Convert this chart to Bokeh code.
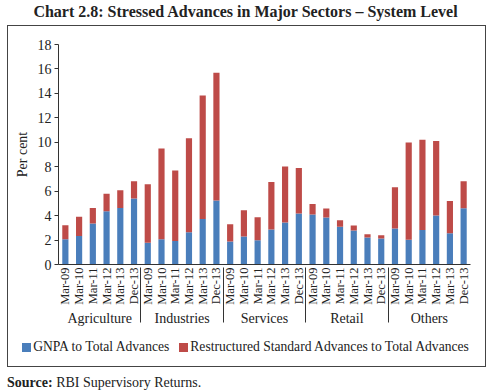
import math
from bokeh.plotting import figure
from bokeh.models import (FactorRange, Range1d, Div, ColumnDataSource, FixedTicker)
from bokeh.layouts import column
from bokeh.embed import file_html
from bokeh.resources import INLINE

sectors = ["Agriculture", "Industries", "Services", "Retail", "Others"]
periods = ["Mar-09", "Mar-10", "Mar-11", "Mar-12", "Mar-13", "Dec-13"]

gnpa_agriculture = [2.07, 2.34, 3.35, 4.36, 4.63, 5.40]
gnpa_industries = [1.77, 2.07, 1.93, 2.64, 3.73, 5.24]
gnpa_services = [1.88, 2.29, 1.99, 2.86, 3.43, 4.17]
gnpa_retail = [4.09, 3.85, 3.08, 2.78, 2.21, 2.13]
gnpa_others = [2.95, 2.02, 2.83, 4.01, 2.56, 4.60]

rsa_agriculture = [1.15, 1.56, 1.28, 1.42, 1.45, 1.42]
rsa_industries = [4.80, 7.42, 5.76, 7.69, 10.10, 10.44]
rsa_services = [1.42, 2.15, 1.88, 3.90, 4.59, 3.73]
rsa_retail = [0.87, 0.73, 0.55, 0.41, 0.27, 0.27]
rsa_others = [3.38, 7.96, 7.37, 6.10, 2.64, 2.22]

series_names = ["GNPA to Total Advances", "Restructured Standard Advances to Total Advances"]
y_ticks = [0, 2, 4, 6, 8, 10, 12, 14, 16, 18]

BLUE = "#4A7EBB"
RED = "#BE4B48"
SERIF = "Liberation Serif"
INK = "#222222"

gnpa_all = gnpa_agriculture + gnpa_industries + gnpa_services + gnpa_retail + gnpa_others
rsa_all = rsa_agriculture + rsa_industries + rsa_services + rsa_retail + rsa_others
factors = [(s, p) for s in sectors for p in periods]

source = ColumnDataSource(data=dict(x=factors, gnpa=gnpa_all, rsa=rsa_all))

p = figure(x_range=FactorRange(*factors, group_padding=0, factor_padding=0, range_padding=0),
           y_range=Range1d(0, 18),
           frame_width=412, frame_height=220,
           min_border_left=50, min_border_right=15, min_border_top=18, min_border_bottom=0,
           output_backend="svg", toolbar_location=None, margin=(0, 0, 0, 0))

renderers = p.vbar_stack(["gnpa", "rsa"], x="x", width=0.45, source=source,
                         color=[BLUE, RED], line_color=None)

p.xgrid.grid_line_color = None
p.ygrid.grid_line_color = None
p.outline_line_color = None

xa = p.xaxis[0]
xa.major_label_orientation = math.pi / 2
xa.major_label_standoff = 3
xa.major_label_text_font = SERIF
xa.major_label_text_font_size = "12.5px"
xa.major_label_text_color = INK
xa.group_text_font = SERIF
xa.group_text_font_size = "14px"
xa.group_text_color = INK
xa.group_text_font_style = "normal"
xa.major_tick_line_color = None
xa.major_tick_out = 0
xa.minor_tick_line_color = None
xa.axis_line_color = "#333333"
xa.separator_line_color = "#333333"
xa.separator_line_width = 1

ya = p.yaxis[0]
ya.ticker = FixedTicker(ticks=y_ticks)
ya.axis_label = "Per cent"
ya.axis_label_text_font = SERIF
ya.axis_label_text_font_size = "14px"
ya.axis_label_text_font_style = "normal"
ya.axis_label_text_color = INK
ya.major_label_text_font = SERIF
ya.major_label_text_font_size = "14px"
ya.major_label_text_color = INK
ya.major_label_standoff = 3
ya.major_tick_out = 4
ya.major_tick_in = 0
ya.minor_tick_line_color = None
ya.axis_line_color = "#333333"
ya.major_tick_line_color = "#333333"

# HTML legend below the axis (inside the bordered box)
def swatch(color, label):
    return ('<span style="display:inline-flex;align-items:center;white-space:nowrap;">'
            f'<span style="display:inline-block;width:9px;height:9px;background:{color};'
            f'margin-right:2px;"></span>{label}</span>')

legend_html = ('<div style="display:flex;justify-content:center;align-items:center;gap:10px;'
               'width:475px;height:38px;font-family:\'Liberation Serif\';font-size:13.6px;color:#222;">'
               + swatch(BLUE, series_names[0]) + swatch(RED, series_names[1]) + '</div>')
legend_div = Div(text=legend_html, width=475, height=38, margin=(0, 0, 0, 0))

box = column(p, legend_div, spacing=0, margin=(0, 0, 0, 0),
             styles={"border": "1px solid #444444"})

title = Div(text='<div style="text-align:center;font-family:\'Liberation Serif\';font-weight:bold;'
                 'font-size:16px;line-height:24px;color:#222;width:477px;white-space:nowrap;">'
                 'Chart 2.8: Stressed Advances in Major Sectors \u2013 System Level</div>',
            width=477, height=25, margin=(0, 0, 0, 0))
src = Div(text='<div style="font-family:\'Liberation Serif\';font-size:14px;line-height:16px;color:#222;'
               'white-space:nowrap;padding-top:8px;"><b>Source:</b> RBI Supervisory Returns.</div>',
          width=477, height=24, margin=(0, 0, 0, 0))

layout = column(title, box, src, spacing=0, margin=(0, 0, 0, 7))
open("out.html", "w").write(file_html(layout, INLINE))
